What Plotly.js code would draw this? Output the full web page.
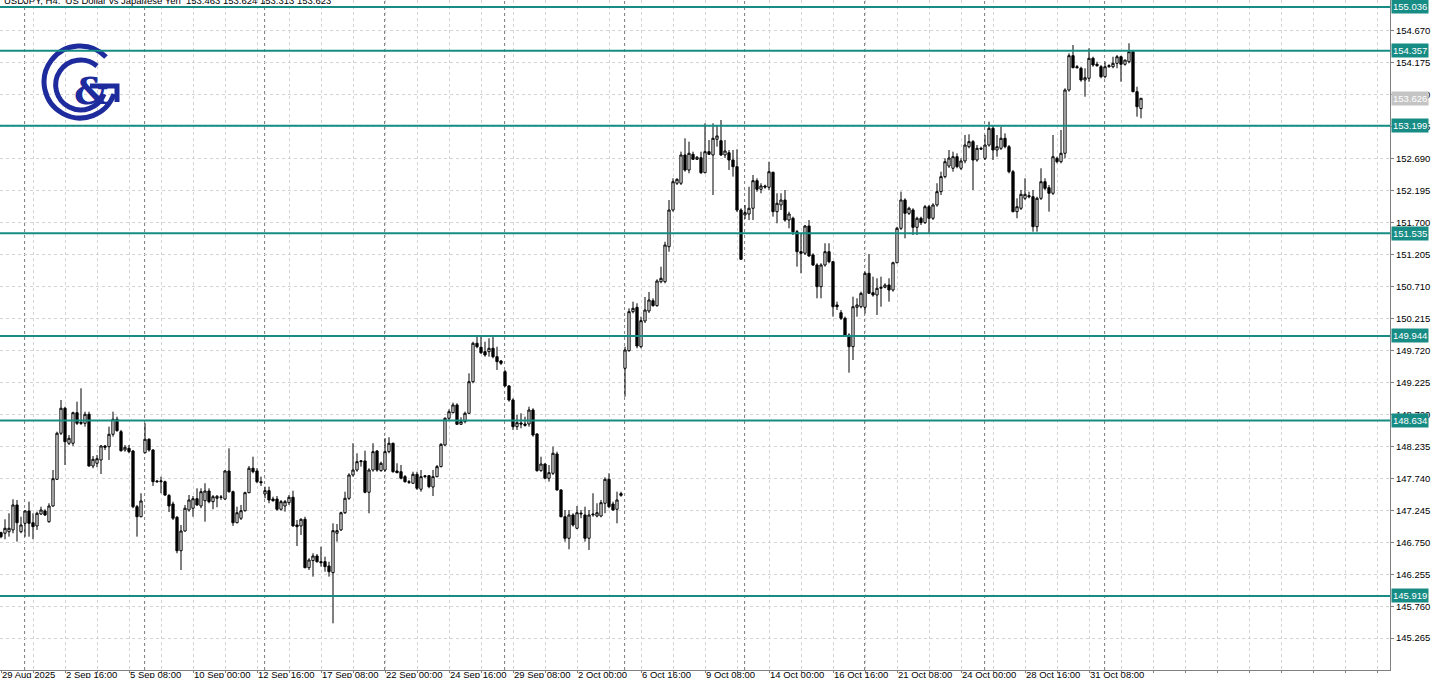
<!DOCTYPE html>
<html><head><meta charset="utf-8">
<script src="https://cdn.plot.ly/plotly-3.0.1.min.js"></script>
<style>html,body{margin:0;padding:0;background:#fff;overflow:hidden}#chart{width:1439px;height:678px}</style>
</head><body><div id="chart"></div>
<script>
// ---- DATA (USDJPY H4, bar 0 = 29 Aug 2025 00:00) ----
const openP = [146.898,146.889,146.913,146.940,147.327,146.913,147.043,147.234,147.052,147.002,147.187,147.234,147.068,147.311,147.724,148.437,148.824,148.282,148.282,148.755,148.607,148.591,148.731,147.930,147.972,148.023,148.240,148.229,148.421,148.653,148.461,148.178,148.204,148.162,147.300,147.145,148.136,148.344,148.178,147.698,147.687,147.687,147.474,147.342,147.136,146.619,146.924,147.249,147.276,147.424,147.311,147.393,147.543,147.378,147.430,147.450,147.419,147.853,147.532,147.052,147.121,147.238,147.517,147.895,147.853,147.687,147.497,147.548,147.419,147.419,147.260,147.311,147.362,147.446,147.017,147.002,147.105,146.356,146.465,146.537,146.449,146.449,146.382,146.279,146.889,146.940,147.207,147.430,147.791,147.868,147.997,148.008,147.523,147.868,148.162,147.858,147.868,148.152,148.282,147.853,147.842,147.765,147.687,147.663,147.802,147.570,147.765,147.780,147.605,147.765,147.920,148.255,148.669,148.755,148.875,148.576,148.617,148.746,149.235,149.830,149.768,149.700,149.700,149.752,149.622,149.556,149.390,149.169,148.952,148.539,148.596,148.580,148.580,148.797,148.426,147.858,147.961,147.740,147.817,148.116,147.559,147.145,146.811,147.172,146.966,147.187,147.172,146.811,147.187,147.156,147.156,147.353,147.724,147.342,147.260,147.502,149.443,149.715,150.319,150.387,149.777,150.175,150.330,150.489,150.412,150.783,150.783,151.325,151.893,152.307,152.307,152.745,152.512,152.755,152.678,152.703,152.471,152.796,152.745,152.988,152.966,152.745,152.780,152.667,152.564,151.893,151.816,151.831,151.920,152.347,152.214,152.265,152.245,152.477,151.867,151.971,152.048,151.738,151.765,151.557,151.248,151.223,151.645,151.197,151.042,150.706,151.042,151.248,151.093,150.423,150.303,150.217,149.958,149.777,150.387,150.396,150.387,150.913,150.613,150.577,150.681,150.697,150.732,150.655,151.077,151.610,152.048,151.842,151.893,151.625,151.765,151.697,151.944,151.765,151.971,152.177,152.409,152.574,152.539,152.718,152.539,152.652,152.873,152.951,152.667,152.848,152.693,152.899,153.158,152.822,152.848,153.003,152.873,152.486,151.867,151.920,152.074,152.115,152.099,151.635,152.074,152.331,152.238,152.152,152.693,152.641,152.771,153.751,154.282,154.111,154.087,153.906,153.932,154.242,154.149,154.111,153.957,154.111,154.111,154.164,154.266,154.149,154.189,154.344,153.725,153.463];
const highP = [146.913,147.105,147.198,147.415,147.404,147.145,147.249,147.378,147.198,147.223,147.300,147.260,147.353,147.868,148.461,148.952,148.848,148.410,148.771,148.926,149.133,148.771,148.771,148.085,148.101,148.255,148.255,148.539,148.771,148.694,148.488,148.255,148.255,148.178,147.327,147.508,148.591,148.359,148.189,147.714,147.765,147.703,147.497,147.378,147.156,147.017,147.327,147.481,147.466,147.585,147.585,147.663,147.585,147.481,147.481,147.481,147.868,148.204,147.548,147.300,147.327,147.532,147.930,148.074,147.895,147.765,147.610,147.610,147.455,147.466,147.404,147.404,147.481,147.548,147.094,147.121,147.145,146.502,146.579,146.568,146.681,146.526,146.449,147.043,147.032,147.223,147.532,147.817,148.282,148.127,148.023,148.167,147.895,148.282,148.178,147.997,148.359,148.375,148.291,147.972,147.946,147.791,147.714,147.842,147.842,147.868,147.791,147.791,147.868,147.946,148.282,148.684,148.808,148.910,148.901,148.684,148.771,149.365,149.854,149.958,149.932,149.854,149.907,149.932,149.777,149.571,149.416,149.184,148.978,148.720,148.746,148.694,148.848,148.824,148.437,148.074,147.972,147.946,148.229,148.152,147.570,147.249,147.249,147.198,147.311,147.249,147.300,147.249,147.508,147.353,147.404,147.755,147.817,147.378,147.532,147.532,149.777,150.371,150.474,150.449,150.242,150.546,150.624,150.526,150.820,151.015,151.402,152.048,152.384,152.384,152.796,153.003,152.951,152.796,152.729,152.796,153.235,152.977,153.235,153.209,153.286,152.977,152.822,152.822,152.833,151.920,151.971,152.254,152.435,152.384,152.307,152.285,152.641,152.486,152.152,152.152,152.203,151.867,151.790,151.584,151.532,151.661,151.738,151.223,151.068,151.068,151.378,151.378,151.104,150.474,150.345,150.242,149.984,150.551,150.526,150.629,150.938,151.212,150.861,150.836,150.861,150.758,150.836,151.093,151.634,152.177,152.074,151.944,151.920,151.790,151.790,151.971,151.971,151.997,152.307,152.486,152.693,152.822,152.796,152.771,152.693,153.054,153.065,152.977,152.899,152.873,153.054,153.260,153.209,153.054,153.183,153.080,152.899,152.512,152.074,152.203,152.384,152.177,152.203,152.099,152.539,152.384,152.280,153.054,152.718,153.132,153.777,154.319,154.447,154.138,154.111,154.087,154.396,154.266,154.189,154.138,154.189,154.149,154.266,154.293,154.282,154.215,154.474,154.370,153.802,153.624];
const lowP = [146.811,146.796,146.836,146.889,146.759,146.889,146.836,146.836,146.796,146.940,147.172,147.156,147.052,147.300,147.714,148.410,147.946,148.255,148.240,148.565,148.565,148.539,147.920,147.895,147.910,147.806,148.178,148.023,148.384,148.461,148.152,148.152,148.127,147.276,146.836,147.136,148.127,148.152,147.621,147.672,147.508,147.466,147.218,147.094,146.579,146.320,146.913,147.223,147.145,147.311,147.276,147.068,147.353,147.260,147.291,147.404,147.404,147.517,147.002,147.043,147.094,147.223,147.508,147.817,147.663,147.621,147.430,147.353,147.378,147.238,147.238,147.223,147.327,146.991,146.692,146.862,146.347,146.320,146.217,146.433,146.372,146.294,146.217,145.495,146.759,146.924,147.187,147.404,147.765,147.842,147.920,147.508,147.198,147.842,147.842,147.842,147.842,148.127,147.827,147.817,147.724,147.672,147.652,147.652,147.559,147.532,147.740,147.585,147.466,147.755,147.910,148.240,148.642,148.746,148.565,148.565,148.591,148.735,149.211,149.752,149.664,149.622,149.622,149.597,149.416,149.494,149.158,148.926,148.488,148.488,148.514,148.539,148.539,148.384,147.842,147.842,147.724,147.687,147.791,147.548,147.136,146.759,146.641,146.991,146.951,147.121,146.759,146.630,147.145,147.136,147.136,147.198,147.276,147.238,147.043,147.455,149.003,149.700,150.294,149.752,149.752,150.144,150.299,150.396,150.396,150.758,150.758,151.248,151.867,152.280,152.280,152.486,152.461,152.667,152.667,152.451,152.461,152.745,152.125,152.873,152.729,152.698,152.512,152.409,151.862,151.119,151.754,151.738,151.738,152.176,152.152,152.223,152.203,151.790,151.687,151.893,151.712,151.610,151.506,151.016,150.913,151.197,151.170,151.026,150.526,150.526,151.016,151.068,150.242,150.345,150.190,149.932,149.375,149.571,150.242,150.371,150.294,150.593,150.551,150.268,150.396,150.681,150.474,150.629,151.068,151.584,151.455,151.816,151.506,151.506,151.661,151.676,151.522,151.738,151.944,152.125,152.384,152.543,152.486,152.539,152.512,152.616,152.848,152.203,152.641,152.822,152.667,152.873,152.667,152.718,152.822,152.848,152.461,151.857,151.765,151.893,152.048,152.074,151.557,151.557,152.048,152.203,151.867,152.125,152.616,152.616,152.693,153.725,154.087,154.087,153.879,153.647,153.879,154.111,154.111,153.932,153.932,154.096,154.087,154.087,153.879,154.127,154.164,153.715,153.338,153.313];
const closeP = [146.836,146.966,146.966,147.327,147.052,147.017,147.234,147.043,146.991,147.198,147.249,147.172,147.311,147.734,148.437,148.824,148.306,148.359,148.755,148.591,148.591,148.731,147.930,148.034,148.043,148.240,148.220,148.421,148.653,148.477,148.167,148.220,148.152,147.300,147.145,147.389,148.344,148.178,147.687,147.687,147.698,147.481,147.311,147.121,146.619,146.924,147.276,147.404,147.424,147.327,147.532,147.543,147.378,147.455,147.461,147.446,147.853,147.532,147.052,147.207,147.238,147.517,147.895,147.842,147.687,147.672,147.548,147.404,147.393,147.260,147.378,147.378,147.446,147.002,146.991,147.105,146.356,146.475,146.537,146.449,146.433,146.372,146.294,146.929,146.929,147.207,147.430,147.791,147.868,147.997,148.008,147.523,147.868,148.152,147.868,147.972,148.152,148.282,147.842,147.827,147.740,147.687,147.678,147.802,147.585,147.765,147.776,147.610,147.765,147.920,148.266,148.669,148.771,148.875,148.576,148.617,148.746,149.235,149.830,149.777,149.684,149.649,149.752,149.622,149.545,149.520,149.169,148.952,148.539,148.601,148.580,148.560,148.797,148.410,147.858,147.961,147.740,147.827,148.127,147.559,147.145,146.811,147.172,147.017,147.207,147.198,146.811,147.172,147.176,147.207,147.362,147.724,147.300,147.249,147.404,147.477,149.726,150.319,150.371,149.788,150.180,150.345,150.500,150.412,150.794,150.836,151.351,151.893,152.331,152.368,152.745,152.512,152.771,152.678,152.709,152.471,152.796,152.755,153.003,153.039,152.745,152.807,152.667,152.564,151.893,151.130,151.852,151.920,152.347,152.214,152.265,152.249,152.486,151.867,151.997,152.048,151.738,151.831,151.557,151.248,151.223,151.645,151.181,151.042,150.706,151.042,151.248,151.093,150.396,150.396,150.217,149.958,149.777,150.396,150.423,150.603,150.913,150.603,150.577,150.681,150.697,150.732,150.655,151.077,151.610,152.048,151.842,151.920,151.625,151.765,151.697,151.944,151.765,151.971,152.177,152.409,152.641,152.698,152.718,152.564,152.652,152.899,152.951,152.667,152.848,152.837,152.899,153.158,152.822,152.873,153.003,152.873,152.486,151.867,151.944,152.136,152.136,152.099,151.635,152.074,152.331,152.229,152.152,152.718,152.641,152.771,153.751,154.282,154.096,154.096,153.906,153.941,154.242,154.138,154.127,153.957,154.111,154.127,154.164,154.266,154.149,154.215,154.344,153.725,153.492,153.623];

const xTickLabels = ["29 Aug 2025","2 Sep 16:00","5 Sep 08:00","10 Sep 00:00","12 Sep 16:00","17 Sep 08:00","22 Sep 00:00","24 Sep 16:00","29 Sep 08:00","2 Oct 00:00","6 Oct 16:00","9 Oct 08:00","14 Oct 00:00","16 Oct 16:00","21 Oct 08:00","24 Oct 00:00","28 Oct 16:00","31 Oct 08:00"];
const weekStarts = [6,36,66,96,126,156,186,216,246,276];
const yTickValues = [145.265,145.760,146.255,146.750,147.245,147.740,148.235,148.720,149.225,149.720,150.215,150.710,151.205,151.700,152.195,152.690,153.185,153.680,154.175,154.670];
const levels = [155.036,154.357,153.199,151.535,149.944,148.634,145.919];
const bidPrice = 153.626;
const titleText = "USDJPY, H4:  US Dollar vs Japanese Yen  153.463 153.624 153.313 153.623";

// ---- chart ----
const TEAL = "#178c85";
const FONT = "Liberation Sans, Arial, sans-serif";
const barsPerLabel = 16, barsPerGrid = 8, totalSlots = 348;
const xs = closeP.map((_, i) => i);

const tickvals = [], ticktext = [];
for (let v = 0; v < totalSlots; v += barsPerGrid) {
  tickvals.push(v);
  const k = v / barsPerLabel;
  ticktext.push(Number.isInteger(k) && k < xTickLabels.length ? xTickLabels[k] : "");
}

const trace = {
  type: "candlestick", x: xs, open: openP, high: highP, low: lowP, close: closeP,
  increasing: {line: {color: "#000", width: 1}, fillcolor: "#ffffff"},
  decreasing: {line: {color: "#000", width: 1}, fillcolor: "#000000"},
  whiskerwidth: 0, hoverinfo: "skip", showlegend: false
};

const shapes = [];
weekStarts.forEach(w => shapes.push({type: "line", xref: "x", yref: "paper", x0: w - 0.1, x1: w - 0.1, y0: 0, y1: 1,
  line: {color: "#7a7a7a", width: 1, dash: "dot"}, layer: "below"}));
levels.forEach(l => shapes.push({type: "line", xref: "paper", yref: "y", x0: 0, x1: 1, y0: l, y1: l,
  line: {color: TEAL, width: 2}}));

const annotations = levels.map(l => ({
  xref: "paper", yref: "y", x: 1, y: l, xanchor: "left", yanchor: "middle", xshift: 1,
  text: l.toFixed(3), showarrow: false, bgcolor: TEAL, borderpad: 1,
  font: {family: FONT, size: 9.5, color: "#ffffff"}
}));
annotations.push({xref: "paper", yref: "y", x: 1, y: bidPrice, xanchor: "left", yanchor: "middle", xshift: 1,
  text: bidPrice.toFixed(3), showarrow: false, bgcolor: "#c4c4c4", borderpad: 1,
  font: {family: FONT, size: 9.5, color: "#ffffff"}});
annotations.push({xref: "paper", yref: "paper", x: 0, y: 1, xanchor: "left", yanchor: "middle", xshift: 2, yshift: 0,
  text: titleText, showarrow: false, font: {family: FONT, size: 9.5, color: "#000"}});

const logoSvg = '<svg xmlns="http://www.w3.org/2000/svg" width="80" height="80" viewBox="0 0 80 80">' +
  '<g fill="none" stroke="#1e2b9c" stroke-width="5">' +
  '<path d="M66 15 A36 36 0 1 0 74 52"/>' +
  '<path d="M57 24 A25 25 0 1 0 64 52"/>' +
  '<path d="M50 44 H77 V60"/></g>' +
  '<text x="34" y="62" font-family="DejaVu Serif, serif" font-weight="bold" font-size="38" fill="#1e2b9c">&amp;</text></svg>';

const layout = {
  width: 1439, height: 678,
  margin: {l: 0, r: 49, t: 0, b: 8, pad: 0},
  paper_bgcolor: "#ffffff", plot_bgcolor: "#ffffff",
  showlegend: false, boxgap: 0.2,
  font: {family: FONT, size: 9.5, color: "#000"},
  xaxis: {
    range: [-0.25, 347.25], rangeslider: {visible: false}, fixedrange: true,
    tickmode: "array", tickvals: tickvals, ticktext: ticktext, tickangle: 0,
    ticklabelposition: "outside right", ticklabeloverflow: "allow",
    ticks: "outside", ticklen: 2, tickcolor: "#808080",
    ticklabelstandoff: -4,
    showgrid: true, gridcolor: "#d4d4d4", griddash: "3px,3px", gridwidth: 1,
    showline: true, linecolor: "#808080", linewidth: 1, zeroline: false, automargin: false,
    tickfont: {family: FONT, size: 9.5, color: "#000"}
  },
  yaxis: {
    side: "right", range: [144.772, 155.144], fixedrange: true,
    tickmode: "array", tickvals: yTickValues, tickformat: ".3f",
    ticks: "outside", ticklen: 3, tickcolor: "#808080",
    showgrid: true, gridcolor: "#d4d4d4", griddash: "3px,3px", gridwidth: 1,
    showline: true, linecolor: "#808080", linewidth: 1, zeroline: false, automargin: false,
    tickfont: {family: FONT, size: 9.5, color: "#000"}
  },
  shapes: shapes, annotations: annotations,
  images: [{source: "data:image/svg+xml;charset=utf-8," + encodeURIComponent(logoSvg),
    xref: "paper", yref: "paper", x: 40 / 1390, y: 1 - 42 / 670, sizex: 80 / 1390, sizey: 80 / 670,
    xanchor: "left", yanchor: "top", sizing: "stretch", layer: "above"}]
};

Plotly.newPlot("chart", [trace], layout, {displayModeBar: false, staticPlot: true});
</script></body></html>
